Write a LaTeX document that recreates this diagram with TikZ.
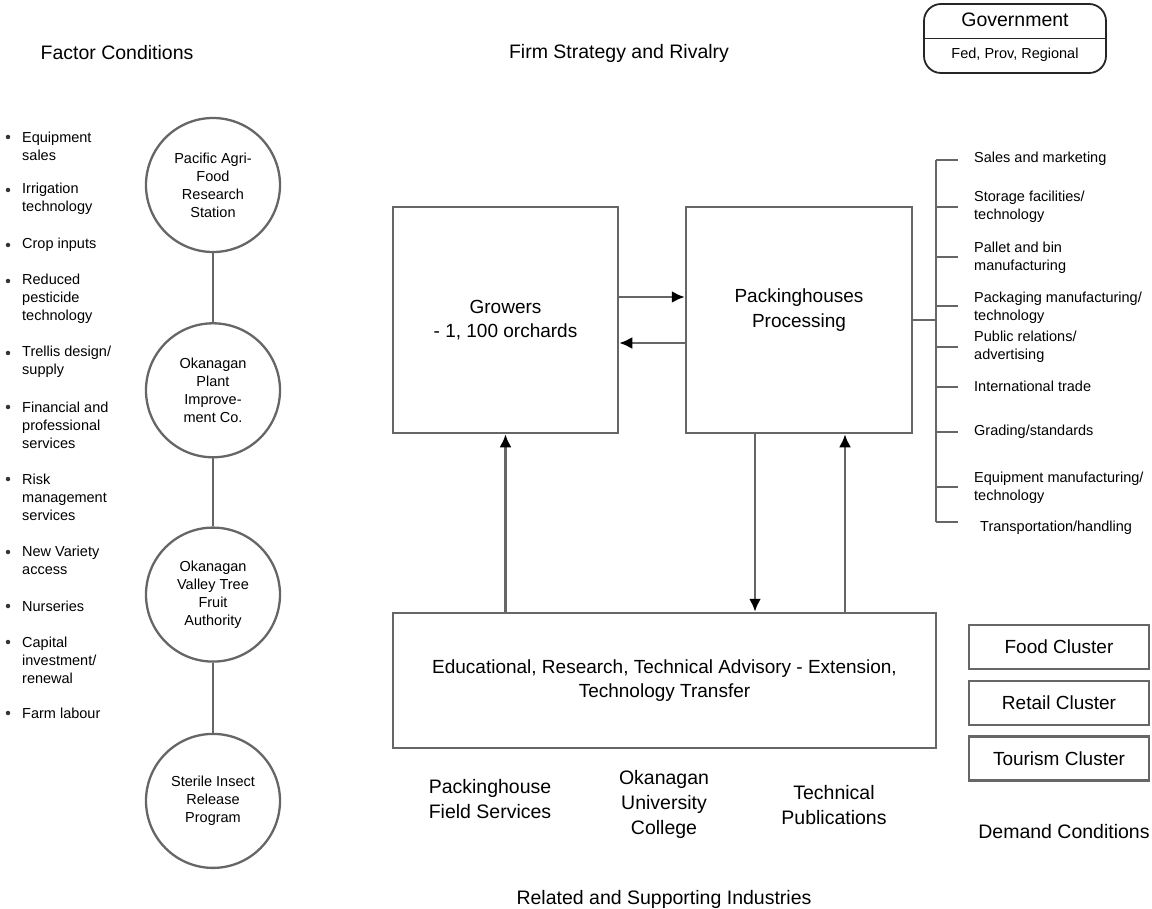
\documentclass[tikz,border=0pt]{standalone}
\usepackage{fontspec}
\setmainfont{Liberation Sans}
\usetikzlibrary{arrows.meta,positioning}
\definecolor{linegray}{HTML}{666666}

\begin{document}
\begin{tikzpicture}[x=1pt,y=-1pt,align=center,>={Latex[length=13pt,width=12pt,color=black]},
heading/.style={font=\fontsize{19.5}{25}\selectfont},
boxtext/.style={font=\fontsize{19}{24.5}\selectfont},
small/.style={font=\fontsize{14.5}{18}\selectfont, align=left, inner sep=0pt},
agency/.style={circle, draw=linegray, line width=2.3pt, minimum size=134pt, inner sep=0pt, font=\fontsize{14.5}{18}\selectfont},
block/.style={rectangle, draw=linegray, line width=2.5pt, inner sep=0pt, boxtext},
cluster/.style={rectangle, draw=linegray, line width=2.3pt, minimum width=180pt, minimum height=44pt, font=\fontsize{19}{23}\selectfont},
govbox/.style={rectangle, rounded corners=17pt, draw=black!85, line width=1.8pt, minimum width=182pt, minimum height=69pt},
paths/.style={->, draw=linegray, line width=2.5pt},
links/.style={draw=linegray, line width=2.3pt},
bullet/.style={circle, fill=black!80, inner sep=0pt, minimum size=4.5pt}
]
\useasboundingbox (0,0) rectangle (1152,909);

%% Nodes   %%%%%%%%%%%%%%%%%%%%%%%%%%%%%%%%%%%%%%%%%%%%%%%%%%%%%%%%%%%%%%%%%%%%%%%

%% Headings
\node [heading] (FC) at (117,53)  {Factor Conditions};
\node [heading] (FS) at (619,53)  {Firm Strategy and Rivalry};
\node [heading] (DC) at (1064,832) {Demand Conditions};
\node [heading] (RS) at (664,899) {Related and Supporting Industries};

%% Government
\node [govbox] (Gov) at (1015,38.5) {};
\node [heading] (GovT) at (1015,20) {Government};
\node [small] (GovS) at (1015,55) {Fed, Prov, Regional};

%% Agencies
\node [agency] (PAF) at (213,185)      {Pacific Agri-\\Food\\Research\\Station};
\node [agency] (OPI) [below=69pt of PAF] {Okanagan\\Plant\\Improve-\\ment Co.};
\node [agency] (OVT) [below=68pt of OPI] {Okanagan\\Valley Tree\\Fruit\\Authority};
\node [agency] (SIR) [below=70pt of OVT] {Sterile Insect\\Release\\Program};

%% Main blocks
\node [block, minimum width=225pt, minimum height=226pt] (Grow) at (505.5,320) {Growers\\- 1, 100 orchards};
\node [block, minimum width=226pt, minimum height=226pt,
       label={[boxtext, yshift=10pt]center:Packinghouses\\Processing}] (Pack) at (799,320) {};
\node [block, minimum width=543pt, minimum height=135pt] (Edu) at (664.5,680.5)
      {Educational, Research, Technical Advisory - Extension,\\Technology Transfer};

%% Supporting bodies
\node [heading] (PFS) at (490,799.5) {Packinghouse\\Field Services};
\node [heading] (OUC) at (664,804)   {Okanagan\\University\\College};
\node [heading] (TPub) at (834,805)  {Technical\\Publications};

%% Clusters
\node [cluster] (Food) at (1059,647)         {Food Cluster};
\node [cluster] (Retail) [below=9.5pt of Food]  {Retail Cluster};
\node [cluster] (Tour) [below=9.5pt of Retail] {Tourism Cluster};

%% Factor list
\foreach \y/\b/\txt [count=\i] in {146/137/{Equipment\\sales}, 199/190/{Irrigation\\technology},
    245/245/{Crop inputs}, 299/281/{Reduced\\pesticide\\technology}, 362/353/{Trellis design/\\supply},
    425/407/{Financial and\\professional\\services}, 497/479/{Risk\\management\\services},
    560/552/{New Variety\\access}, 606/606/{Nurseries}, 660/642/{Capital\\investment/\\renewal},
    713/713/{Farm labour}}
{
\node [bullet] (FB\i) at (8,\b) {};
\node [small, anchor=west] (F\i) at (22,\y) {\txt};
}

%% Industry list
\foreach \t/\y/\xx/\txt [count=\i] in {160/159/974/{Sales and marketing}, 207/207/974/{Storage facilities/\\technology},
    257/258/974/{Pallet and bin\\manufacturing}, 306/308/974/{Packaging manufacturing/\\technology},
    347/347/974/{Public relations/\\advertising}, 387/386/974/{International trade},
    432/432/974/{Grading/standards}, 487/488/974/{Equipment manufacturing/\\technology},
    522/528/980/{Transportation/handling}}
{
\coordinate (B\i) at (936,\t);
\node [small, anchor=west] (S\i) at (\xx,\y) {\txt};
\draw [links] (B\i) -- ++(22,0);
}

%% Pfade %%%%%%%%%%%%%%%%%%%%%%%%%%%%%%%%%%%%%%%%%%%%%%%%%%%%%%%%%%%%%%%%%%%%%%%%%%%

%% Agency chain
\draw [links] (PAF) -- (OPI);
\draw [links] (OPI) -- (OVT);
\draw [links] (OVT) -- (SIR);

%% Growers - Packinghouses
\draw [paths] ([yshift=23pt]Grow.east) -- ([yshift=23pt]Pack.west);
\draw [paths] ([yshift=-23pt]Pack.west) -- ([yshift=-23pt]Grow.east);

%% Education links
\draw [paths] (Grow.south |- Edu.north) -- (Grow.south);
\draw [paths] ([xshift=-44pt]Pack.south) -- ([xshift=-44pt]Pack.south |- Edu.north);
\draw [paths] ([xshift=46pt]Pack.south |- Edu.north) -- ([xshift=46pt]Pack.south);

%% Bracket
\draw [links] (Pack.east) -- (Pack.east -| B1);
\draw [links] (B1) -- (B9);

%% Government split
\draw [black!85, line width=1.8pt] (Gov.west) -- (Gov.east);

\end{tikzpicture}
\end{document}
